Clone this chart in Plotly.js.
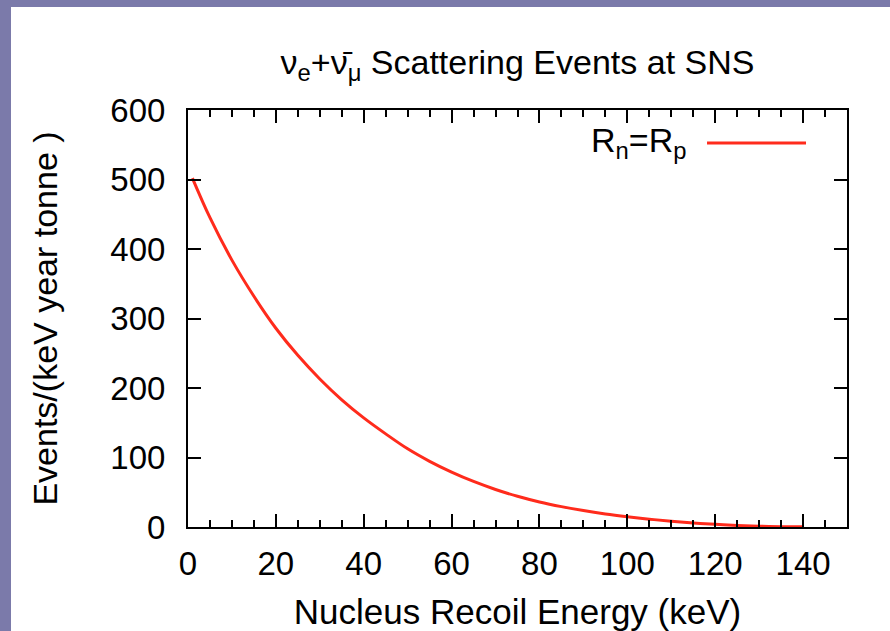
<!DOCTYPE html>
<html>
<head>
<meta charset="utf-8">
<script src="https://cdn.plot.ly/plotly-3.0.1.min.js"></script>
<style>
  html, body { margin: 0; padding: 0; width: 890px; height: 631px; overflow: hidden; background: #7b7aaa; }
  #chart { position: absolute; left: 11px; top: 7px; width: 879px; height: 624px; background: #ffffff; }
</style>
</head>
<body>
<div id="chart"></div>
<script>
// Nucleus recoil energy (keV)
const energy = [1, 5, 10, 15, 20, 25, 30, 35, 40, 45, 50, 55, 60, 65, 70, 75, 80, 85, 90, 95, 100, 105, 110, 115, 120, 125, 130, 135, 140];
// Events/(keV year tonne), Rn = Rp
const events = [502, 445, 384, 332, 286, 247, 213, 183, 157, 134, 112.5, 94.5, 79, 65.5, 54, 44.2, 36, 29.3, 23.6, 18.8, 14.8, 11.3, 8.3, 5.8, 3.8, 2.3, 1.2, 0.5, 0.2];
const seriesName = 'R<sub>n</sub>=R<sub>p</sub>';
const xTicks = [0, 20, 40, 60, 80, 100, 120, 140];
const yTicks = [0, 100, 200, 300, 400, 500, 600];

const font = 'Liberation Sans, Arial, Helvetica, sans-serif';
const lineColor = '#ff2b1c';

const trace = {
  x: energy, y: events, type: 'scatter', mode: 'lines', name: seriesName,
  line: { color: lineColor, width: 3, shape: 'spline', smoothing: 1 }, showlegend: false
};

const layout = {
  width: 879, height: 624,
  margin: { l: 177, r: 43, t: 103, b: 104 },
  paper_bgcolor: '#ffffff', plot_bgcolor: '#ffffff',
  font: { family: font, color: '#000000', size: 33 },
  title: {
    text: 'ν<sub>e</sub>+ν\u0304<sub>μ</sub> Scattering Events at SNS',
    font: { family: font, size: 34, color: '#000000' },
    xref: 'paper', x: 0.5, xanchor: 'center',
    yref: 'container', y: 0.912, yanchor: 'middle'
  },
  xaxis: {
    range: [0, 150], tickvals: xTicks, ticktext: xTicks.map(String),
    ticks: 'inside', ticklen: 13, tickwidth: 2, tickcolor: '#000',
    showline: true, linewidth: 2, linecolor: '#000', mirror: 'ticks',
    showgrid: false, zeroline: false,
    minor: { dtick: 5, ticks: 'inside', ticklen: 7, tickwidth: 2, tickcolor: '#000', showgrid: false },
    tickfont: { size: 33 }, ticklabelstandoff: 6,
    title: { text: 'Nucleus Recoil Energy (keV)', font: { size: 35 }, standoff: 21 }
  },
  yaxis: {
    range: [0, 600], tickvals: yTicks, ticktext: yTicks.map(String),
    ticks: 'inside', ticklen: 13, tickwidth: 2, tickcolor: '#000',
    showline: true, linewidth: 2, linecolor: '#000', mirror: 'ticks',
    showgrid: false, zeroline: false,
    tickfont: { size: 33 }, ticklabelstandoff: 14,
    title: { text: 'Events/(keV year tonne )', font: { size: 34 }, standoff: 42 }
  },
  annotations: [{
    xref: 'paper', yref: 'paper', x: 0.759, y: 0.921, xanchor: 'right', yanchor: 'middle',
    text: seriesName, showarrow: false, font: { size: 34, family: font, color: '#000' }
  }],
  shapes: [{
    type: 'line', xref: 'paper', yref: 'paper', x0: 0.7876, x1: 0.9378, y0: 0.921, y1: 0.921,
    line: { color: lineColor, width: 3 }
  }]
};

Plotly.newPlot('chart', [trace], layout, { staticPlot: true, displayModeBar: false });
</script>
</body>
</html>
